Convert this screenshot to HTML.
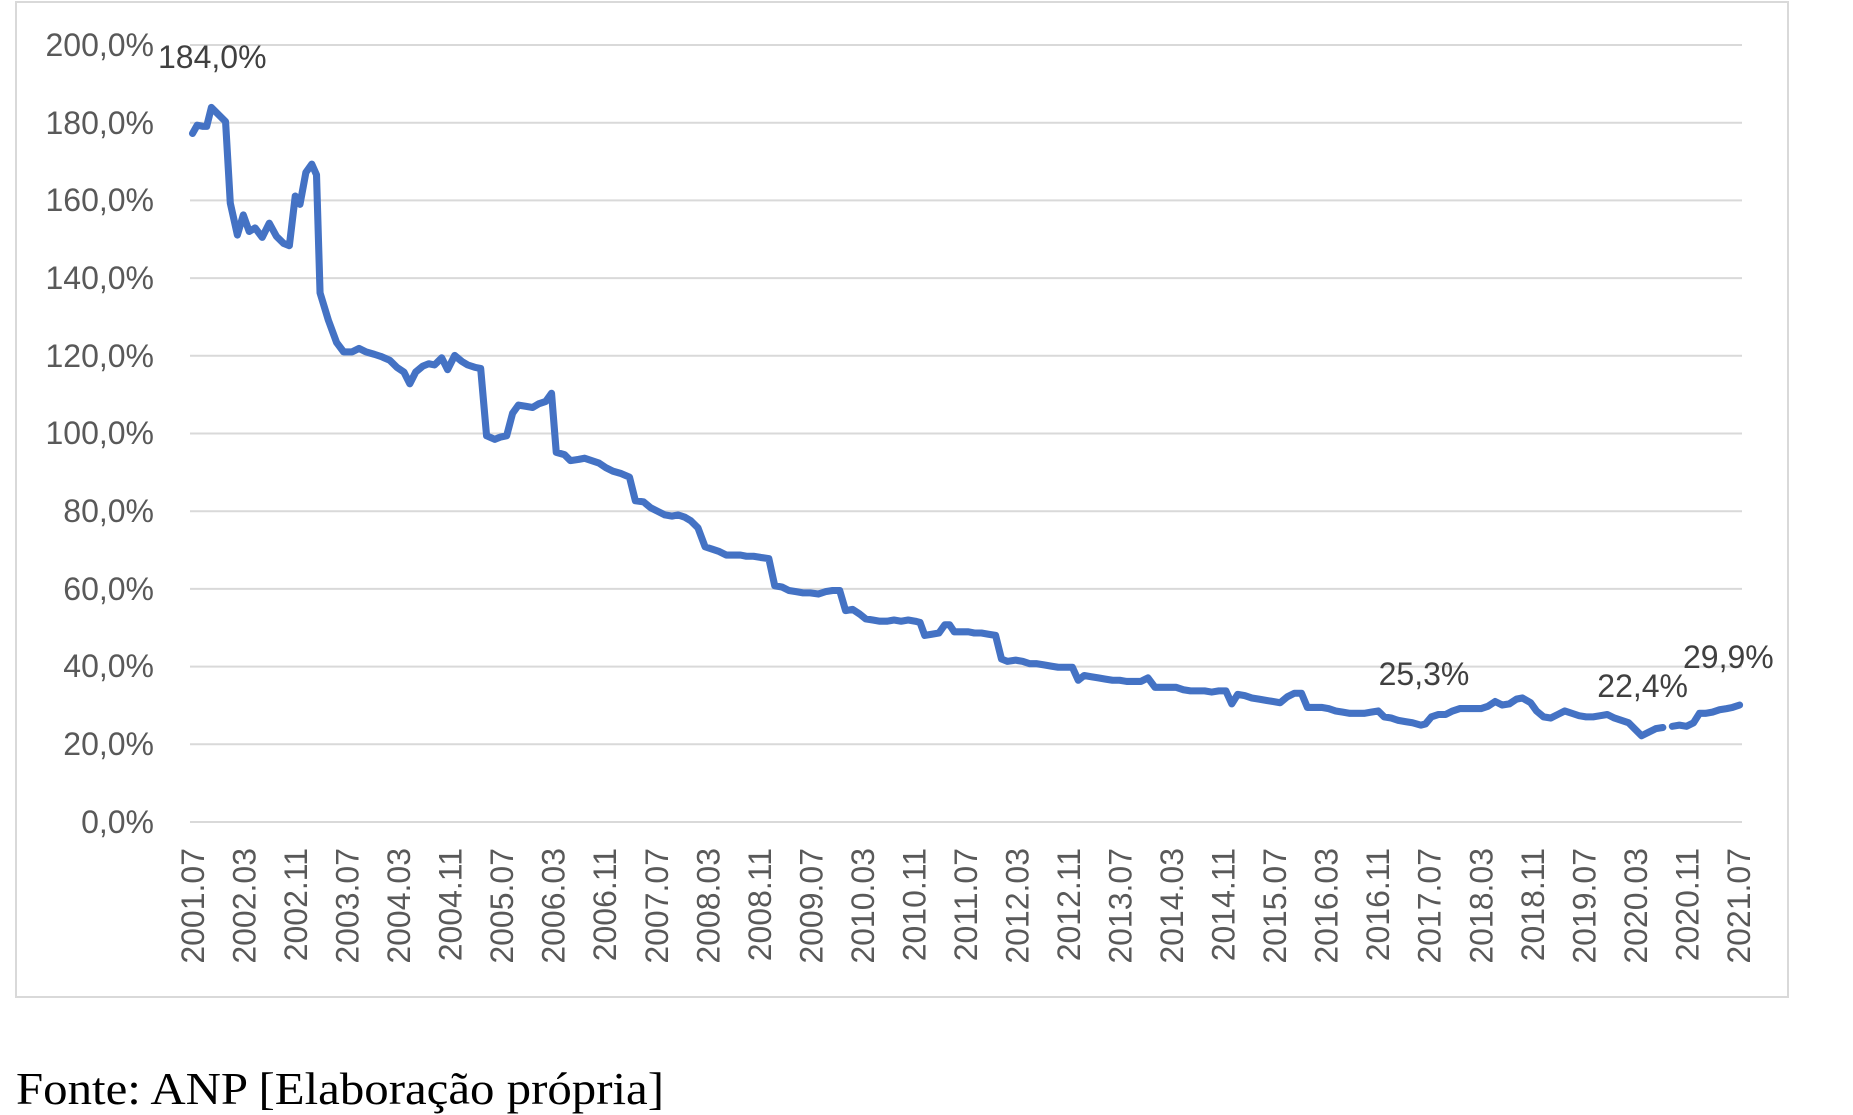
<!DOCTYPE html>
<html><head><meta charset="utf-8"><style>
html,body{margin:0;padding:0;background:#fff;width:1853px;height:1115px;overflow:hidden}
</style></head><body>
<svg width="1853" height="1115" xmlns="http://www.w3.org/2000/svg" font-family="Liberation Sans, sans-serif">
<rect x="16" y="2" width="1772" height="995" fill="#fff" stroke="#d9d9d9" stroke-width="2"/>
<g stroke="#d9d9d9" stroke-width="2">
<line x1="190" x2="1742" y1="45" y2="45"/><line x1="190" x2="1742" y1="122.7" y2="122.7"/>
<line x1="190" x2="1742" y1="200.4" y2="200.4"/><line x1="190" x2="1742" y1="278.1" y2="278.1"/>
<line x1="190" x2="1742" y1="355.8" y2="355.8"/><line x1="190" x2="1742" y1="433.5" y2="433.5"/>
<line x1="190" x2="1742" y1="511.2" y2="511.2"/><line x1="190" x2="1742" y1="588.9" y2="588.9"/>
<line x1="190" x2="1742" y1="666.6" y2="666.6"/><line x1="190" x2="1742" y1="744.3" y2="744.3"/>
<line x1="190" x2="1742" y1="822" y2="822"/>
</g>
<g fill="#595959" font-size="32" text-anchor="end">
<text x="154" y="56">200,0%</text><text x="154" y="134">180,0%</text><text x="154" y="211">160,0%</text>
<text x="154" y="289">140,0%</text><text x="154" y="367">120,0%</text><text x="154" y="444">100,0%</text>
<text x="154" y="522">80,0%</text><text x="154" y="600">60,0%</text><text x="154" y="677">40,0%</text>
<text x="154" y="755">20,0%</text><text x="154" y="833">0,0%</text>
</g>
<g fill="#595959" font-size="32" text-anchor="end">
<text transform="translate(204,848) rotate(-90)">2001.07</text>
<text transform="translate(255.5,848) rotate(-90)">2002.03</text>
<text transform="translate(307.1,848) rotate(-90)">2002.11</text>
<text transform="translate(358.6,848) rotate(-90)">2003.07</text>
<text transform="translate(410.1,848) rotate(-90)">2004.03</text>
<text transform="translate(461.7,848) rotate(-90)">2004.11</text>
<text transform="translate(513.2,848) rotate(-90)">2005.07</text>
<text transform="translate(564.7,848) rotate(-90)">2006.03</text>
<text transform="translate(616.2,848) rotate(-90)">2006.11</text>
<text transform="translate(667.8,848) rotate(-90)">2007.07</text>
<text transform="translate(719.3,848) rotate(-90)">2008.03</text>
<text transform="translate(770.8,848) rotate(-90)">2008.11</text>
<text transform="translate(822.4,848) rotate(-90)">2009.07</text>
<text transform="translate(873.9,848) rotate(-90)">2010.03</text>
<text transform="translate(925.4,848) rotate(-90)">2010.11</text>
<text transform="translate(977,848) rotate(-90)">2011.07</text>
<text transform="translate(1028.5,848) rotate(-90)">2012.03</text>
<text transform="translate(1080,848) rotate(-90)">2012.11</text>
<text transform="translate(1131.5,848) rotate(-90)">2013.07</text>
<text transform="translate(1183.1,848) rotate(-90)">2014.03</text>
<text transform="translate(1234.6,848) rotate(-90)">2014.11</text>
<text transform="translate(1286.1,848) rotate(-90)">2015.07</text>
<text transform="translate(1337.7,848) rotate(-90)">2016.03</text>
<text transform="translate(1389.2,848) rotate(-90)">2016.11</text>
<text transform="translate(1440.7,848) rotate(-90)">2017.07</text>
<text transform="translate(1492.3,848) rotate(-90)">2018.03</text>
<text transform="translate(1543.8,848) rotate(-90)">2018.11</text>
<text transform="translate(1595.3,848) rotate(-90)">2019.07</text>
<text transform="translate(1646.8,848) rotate(-90)">2020.03</text>
<text transform="translate(1698.4,848) rotate(-90)">2020.11</text>
<text transform="translate(1749.9,848) rotate(-90)">2021.07</text>
</g>
<g transform="scale(1.181)" fill="none" stroke="#4472c4" stroke-width="6" stroke-linejoin="round" stroke-linecap="round">
<polyline points="163,113 167,106 172,107 175,107 179,91 186,98 191,103 195,172 201,199 206,182 211,196 216,193 222,201 228,189 234,200 240,206 245,208 250,166 254,173 259,146 264,139 268,148 271,248 278,271 285,290 291,298 298,298 304,295 310,298 317,300 323,302 330,305 336,311 342,315 347,325 352,315 358,310 363,308 368,309 374,303 379,313 385,301 391,306 396,309 402,311 407,312 412,369 419,372 424,370 429,369 434,350 439,343 445,344 451,345 456,342 462,340 467,333 471,383 478,385 483,390 490,389 495,388 501,390 507,392 513,396 519,399 526,401 533,404 538,424 545,425 551,430 557,433 563,436 569,437 574,436 580,438 585,441 591,447 597,463 603,465 609,467 615,470 621,470 627,470 632,471 638,471 644,472 651,473 656,496 662,497 668,500 674,501 680,502 686,502 693,503 699,501 705,500 711,500 716,517 722,516 728,520 733,524 739,525 745,526 751,526 757,525 763,526 769,525 775,526 779,527 783,538 789,537 795,536 800,529 804,529 808,535 814,535 820,535 825,536 831,536 837,537 843,538 848,558 853,560 860,559 866,560 872,562 878,562 884,563 890,564 896,565 902,565 908,565 913,576 918,572 924,573 930,574 936,575 942,576 948,576 954,577 960,577 966,577 972,574 978,582 984,582 990,582 996,582 1002,584 1008,585 1014,585 1020,585 1026,586 1032,585 1038,585 1043,596 1048,588 1054,589 1060,591 1066,592 1072,593 1078,594 1084,595 1090,590 1096,587 1102,587 1107,599 1113,599 1119,599 1125,600 1131,602 1137,603 1143,604 1149,604 1155,604 1161,603 1167,602 1172,607 1178,608 1184,610 1190,611 1196,612 1203,614 1207,613 1212,607 1218,605 1224,605 1230,602 1236,600 1242,600 1248,600 1254,600 1260,598 1266,594 1272,597 1278,596 1284,592 1289,591 1296,595 1301,602 1307,607 1313,608 1319,605 1325,602 1331,604 1337,606 1343,607 1349,607 1355,606 1361,605 1367,608 1373,610 1379,612 1385,618 1390,623 1396,620 1402,617 1408,616"/>
<polyline points="1416,615 1422,614 1428,615 1434,612 1439,604 1444,604 1450,603 1456,601 1462,600 1467,599 1473,597"/>
</g>
<g fill="#404040" font-size="32">
<text x="158" y="68">184,0%</text>
<text x="1424" y="685" text-anchor="middle">25,3%</text>
<text x="1688" y="697" text-anchor="end">22,4%</text>
<text x="1683" y="668">29,9%</text>
</g>
<text x="16" y="1104" font-family="Liberation Serif, serif" font-size="46" fill="#000" textLength="648" lengthAdjust="spacingAndGlyphs">Fonte: ANP [Elaboração própria]</text>
</svg>
</body></html>
